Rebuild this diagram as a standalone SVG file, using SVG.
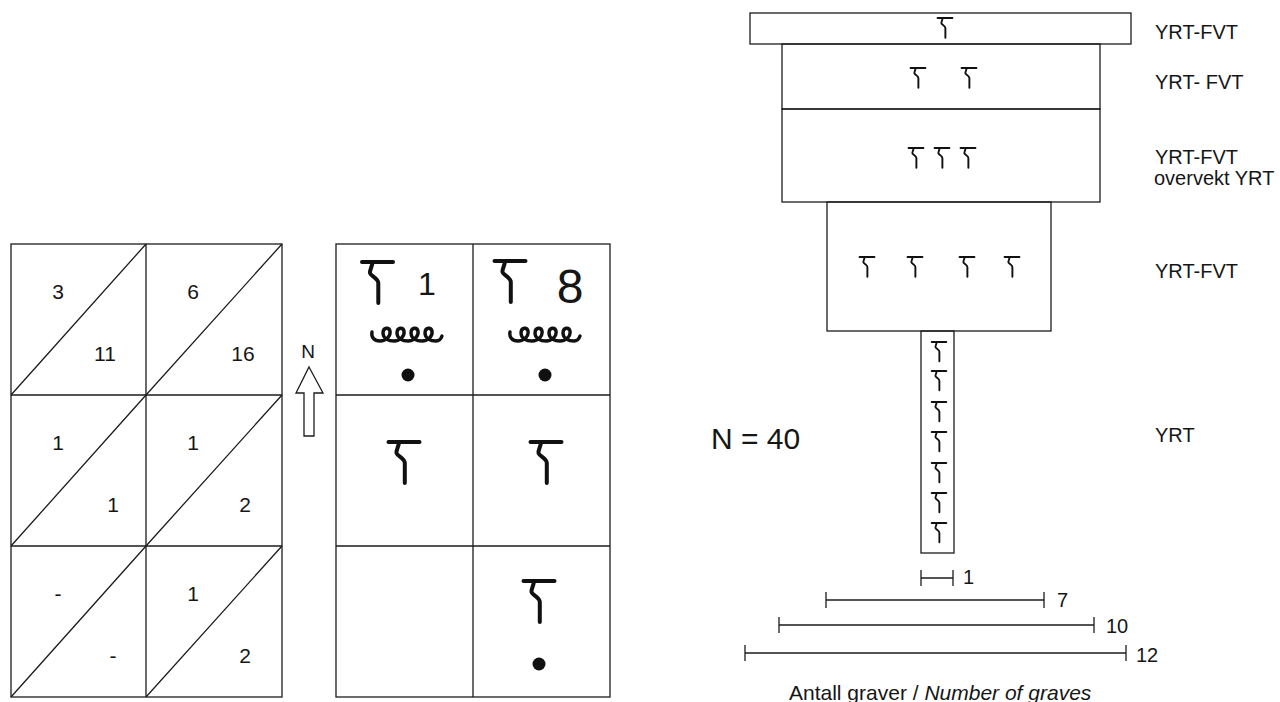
<svg xmlns="http://www.w3.org/2000/svg" xmlns:xlink="http://www.w3.org/1999/xlink" width="1280" height="702" viewBox="0 0 1280 702">
<style>
.ln{fill:none;stroke:#1c1c1c;stroke-width:1.3}
.t{font-family:"Liberation Sans",Arial,sans-serif;fill:#161616}
.n21{font-size:21px;text-anchor:middle}
.lab{font-size:20px}
.sym{fill:none;stroke:#111;stroke-linecap:round;stroke-linejoin:round}
</style>
<defs>
<g id="hook" class="sym" stroke-width="4">
<path d="M-15.5,0 H15.5"/>
<path d="M-5,0 C-5,4 -8,8 -7.5,11 C-7,14 0.8,16 0.8,21 V41"/>
</g>
<path id="curl" class="sym" stroke-width="3.4" d="M2,-9 C1,-4 4,0 10,0 C16,0 21,-5 20,-10 C19,-14 13,-14 13,-8 C13,-2 19,0 24,0 C30,0 35,-5 34,-10 C33,-14 27,-14 27,-8 C27,-2 33,0 38,0 C44,0 49,-5 48,-10 C47,-14 41,-14 41,-8 C41,-2 47,0 52,0 C58,0 63,-5 62,-10 C61,-14 55,-14 55,-8 C55,-2 61,0 66,0 C69,0 71,-2 72,-5"/>
</defs>
<rect width="1280" height="702" fill="#fff"/>

<!-- Left grid -->
<g id="grid-counts">
<rect class="ln" x="11" y="244" width="271" height="453"/>
<path class="ln" d="M146,244 V697 M11,395 H282 M11,546 H282"/>
<path class="ln" d="M11,395 L146,244 M146,395 L282,244 M11,546 L146,395 M146,546 L282,395 M11,697 L146,546 M146,697 L282,546"/>
<g class="t n21">
<text x="58" y="299">3</text>
<text x="105" y="361">11</text>
<text x="193" y="299">6</text>
<text x="243" y="361">16</text>
<text x="58" y="450">1</text>
<text x="113" y="512">1</text>
<text x="193" y="450">1</text>
<text x="245" y="512">2</text>
<text x="58" y="601">-</text>
<text x="113" y="663">-</text>
<text x="193" y="601">1</text>
<text x="245" y="663">2</text>
</g>
</g>

<!-- North arrow -->
<g id="north">
<text class="t" x="308" y="358" font-size="19" text-anchor="middle">N</text>
<path class="ln" d="M309,367 L323,393 L314,393 L314,436 L304,436 L304,393 L296,393 Z"/>
</g>

<!-- Middle grid with symbols -->
<g id="grid-symbols">
<rect class="ln" x="336" y="244" width="274" height="453"/>
<path class="ln" d="M473,244 V697 M336,395 H610 M336,546 H610"/>
<use xlink:href="#hook" transform="translate(377.5,262)"/>
<text class="t" x="427" y="295" font-size="32" text-anchor="middle">1</text>
<use xlink:href="#curl" transform="translate(370,341)"/>
<circle cx="408" cy="375" r="6.5" fill="#111"/>
<use xlink:href="#hook" transform="translate(510,261)"/>
<text class="t" x="570" y="303" font-size="48" text-anchor="middle">8</text>
<use xlink:href="#curl" transform="translate(508,341)"/>
<circle cx="545" cy="375" r="6.5" fill="#111"/>
<use xlink:href="#hook" transform="translate(404,442)"/>
<use xlink:href="#hook" transform="translate(546,442)"/>
<use xlink:href="#hook" transform="translate(539,581)"/>
<circle cx="539" cy="664" r="6.5" fill="#111"/>
</g>

<!-- Right stacked diagram -->
<g id="level-1">
<rect class="ln" x="750" y="13" width="381" height="31"/>
<use xlink:href="#hook" transform="translate(945,18) scale(0.48)"/>
<text class="t lab" x="1155" y="39">YRT-FVT</text>
</g>
<g id="level-2">
<rect class="ln" x="782" y="44" width="318" height="65"/>
<use xlink:href="#hook" transform="translate(918,68) scale(0.48)"/>
<use xlink:href="#hook" transform="translate(969,68) scale(0.48)"/>
<text class="t lab" x="1155" y="89">YRT- FVT</text>
</g>
<g id="level-3">
<rect class="ln" x="782" y="109" width="318" height="93"/>
<use xlink:href="#hook" transform="translate(916,148) scale(0.48)"/>
<use xlink:href="#hook" transform="translate(942,148) scale(0.48)"/>
<use xlink:href="#hook" transform="translate(968,148) scale(0.48)"/>
<text class="t lab" x="1155" y="164">YRT-FVT</text>
<text class="t lab" x="1154" y="185">overvekt YRT</text>
</g>
<g id="level-4">
<rect class="ln" x="827" y="202" width="224" height="129"/>
<use xlink:href="#hook" transform="translate(867,257) scale(0.48)"/>
<use xlink:href="#hook" transform="translate(915,257) scale(0.48)"/>
<use xlink:href="#hook" transform="translate(967,257) scale(0.48)"/>
<use xlink:href="#hook" transform="translate(1012,257) scale(0.48)"/>
<text class="t lab" x="1155" y="278">YRT-FVT</text>
</g>
<g id="level-5">
<rect class="ln" x="921" y="331" width="33" height="222"/>
<use xlink:href="#hook" transform="translate(939,342) scale(0.47)"/>
<use xlink:href="#hook" transform="translate(939,371) scale(0.47)"/>
<use xlink:href="#hook" transform="translate(939,402) scale(0.47)"/>
<use xlink:href="#hook" transform="translate(939,432) scale(0.47)"/>
<use xlink:href="#hook" transform="translate(939,463) scale(0.47)"/>
<use xlink:href="#hook" transform="translate(939,493) scale(0.47)"/>
<use xlink:href="#hook" transform="translate(939,523) scale(0.47)"/>
<text class="t lab" x="1155" y="442">YRT</text>
</g>
<text id="total" class="t" x="711" y="449" font-size="30">N = 40</text>

<!-- Scale bars -->
<g id="connectors">
<path class="ln" d="M921,578 H953 M921,570 V586 M953,570 V586"/>
<path class="ln" d="M826,600 H1044 M826,592 V608 M1044,592 V608"/>
<path class="ln" d="M779,625 H1094 M779,617 V633 M1094,617 V633"/>
<path class="ln" d="M745,653 H1126 M745,645 V661 M1126,645 V661"/>
</g>
<g id="scale-labels" class="t lab">
<text x="963" y="584">1</text>
<text x="1057" y="607">7</text>
<text x="1106" y="633">10</text>
<text x="1136" y="662">12</text>
</g>
<text id="caption" class="t" font-size="21" x="789" y="700">Antall graver / <tspan font-style="italic">Number of graves</tspan></text>
</svg>
